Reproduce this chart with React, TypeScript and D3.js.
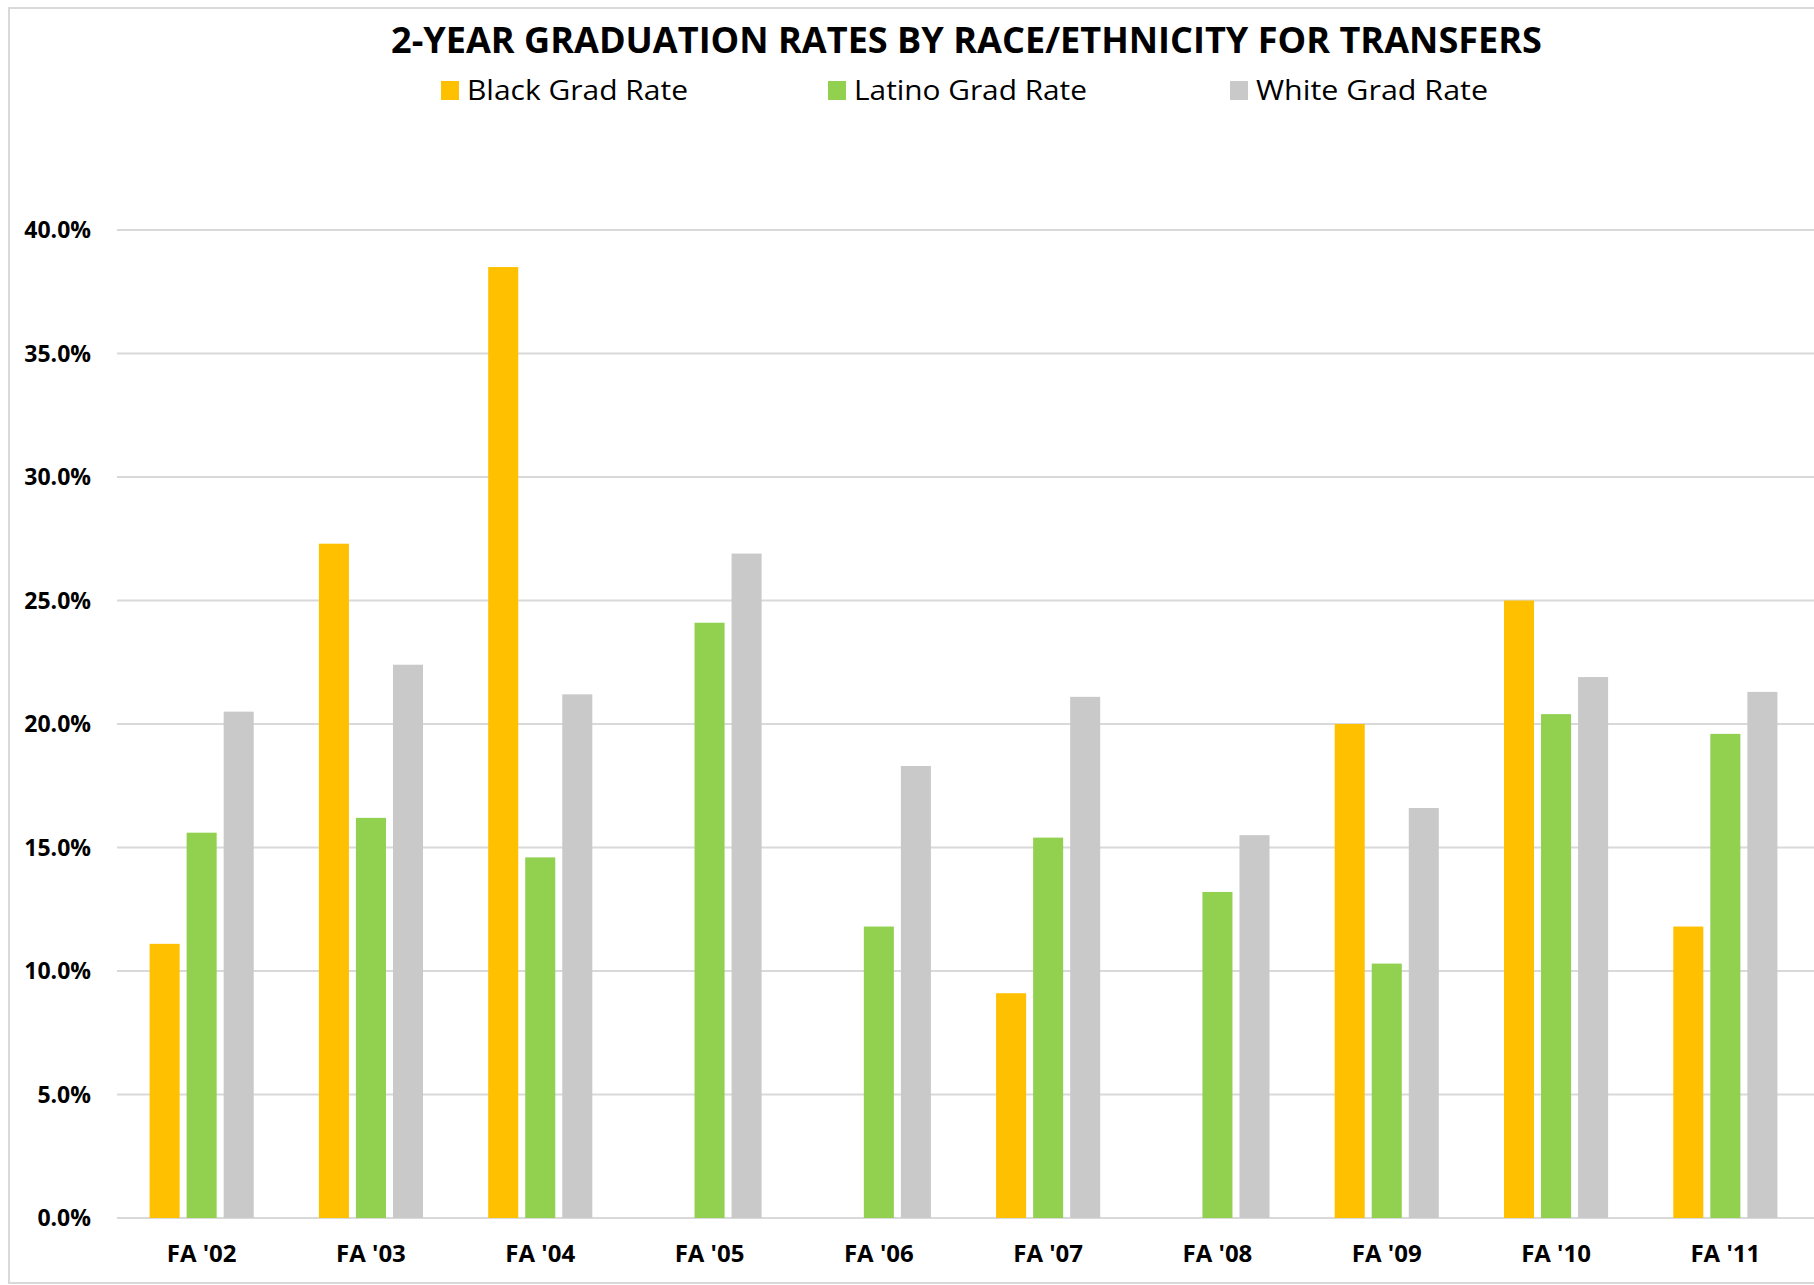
import React, { useEffect, useRef } from 'react';
import * as d3 from 'd3';

const categories = ["FA '02", "FA '03", "FA '04", "FA '05", "FA '06", "FA '07", "FA '08", "FA '09", "FA '10", "FA '11"];
const blackRate = [0.111, 0.273, 0.385, null, null, 0.091, null, 0.200, 0.250, 0.118];
const latinoRate = [0.156, 0.162, 0.146, 0.241, 0.118, 0.154, 0.132, 0.103, 0.204, 0.196];
const whiteRate = [0.205, 0.224, 0.212, 0.269, 0.183, 0.211, 0.155, 0.166, 0.219, 0.213];
const seriesNames = ['Black Grad Rate', 'Latino Grad Rate', 'White Grad Rate'];
const yTicks = [0, 0.05, 0.1, 0.15, 0.2, 0.25, 0.3, 0.35, 0.4];

const title = '2-YEAR GRADUATION RATES BY RACE/ETHNICITY FOR TRANSFERS';

const width = 1814;
const height = 1285;
const margin = { top: 230, right: 4, bottom: 67, left: 117 };
const colors = ['#FFC000', '#92D050', '#C9C9C9'];
const font = "'Open Sans', 'Noto Sans', sans-serif";

const App = () => {
  const chartRef = useRef(null);

  useEffect(() => {
    const svg = d3.select(chartRef.current);
    svg.selectAll('*').remove();

    const series = [blackRate, latinoRate, whiteRate];

    const x0 = d3.scaleBand()
      .domain(categories)
      .range([margin.left, width - margin.right])
      .paddingInner(0.385)
      .paddingOuter(0.1925);

    const x1 = d3.scaleBand()
      .domain(seriesNames)
      .range([0, x0.bandwidth()])
      .paddingInner(0.189);

    const y = d3.scaleLinear()
      .domain([0, 0.4])
      .range([height - margin.bottom, margin.top]);

    // chart frame
    svg.append('rect')
      .attr('x', 9).attr('y', 8)
      .attr('width', width).attr('height', 1275)
      .attr('fill', 'white')
      .attr('stroke', '#d9d9d9')
      .attr('stroke-width', 2);

    // gridlines
    svg.append('g')
      .selectAll('line')
      .data(yTicks)
      .enter()
      .append('line')
      .attr('x1', margin.left)
      .attr('x2', width)
      .attr('y1', d => y(d))
      .attr('y2', d => y(d))
      .attr('stroke', '#d9d9d9')
      .attr('stroke-width', 2);

    // y labels
    svg.append('g')
      .selectAll('text')
      .data(yTicks)
      .enter()
      .append('text')
      .attr('x', 91)
      .attr('y', d => y(d) + 8)
      .attr('text-anchor', 'end')
      .attr('font-family', font)
      .attr('font-weight', 700)
      .attr('font-size', 23)
      .attr('fill', '#000')
      .text(d => d3.format('.1%')(d));

    // bars
    series.forEach((values, si) => {
      svg.append('g')
        .selectAll('rect')
        .data(values.map((v, i) => ({ cat: categories[i], v })).filter(d => d.v != null))
        .enter()
        .append('rect')
        .attr('x', d => x0(d.cat) + x1(seriesNames[si]))
        .attr('y', d => y(d.v))
        .attr('width', x1.bandwidth())
        .attr('height', d => y(0) - y(d.v))
        .attr('fill', colors[si]);
    });

    // x labels
    svg.append('g')
      .selectAll('text')
      .data(categories)
      .enter()
      .append('text')
      .attr('x', d => x0(d) + x0.bandwidth() / 2)
      .attr('y', 1262)
      .attr('text-anchor', 'middle')
      .attr('font-family', font)
      .attr('font-weight', 700)
      .attr('font-size', 24)
      .attr('fill', '#000')
      .text(d => d);

    // title
    svg.append('text')
      .attr('x', 391)
      .attr('y', 53)
      .attr('font-family', font)
      .attr('font-weight', 700)
      .attr('font-size', 36)
      .attr('textLength', 1151)
      .attr('lengthAdjust', 'spacingAndGlyphs')
      .attr('fill', '#000')
      .text(title);

    // legend
    const legendX = [441, 828, 1230];
    const legendW = [221, 233, 232];
    const legend = svg.append('g')
      .selectAll('g')
      .data(seriesNames)
      .enter()
      .append('g')
      .attr('transform', (d, i) => `translate(${legendX[i]}, 0)`);

    legend.append('rect')
      .attr('x', 0).attr('y', 81)
      .attr('width', 18).attr('height', 19)
      .attr('fill', (d, i) => colors[i]);

    legend.append('text')
      .attr('x', 26)
      .attr('y', 100)
      .attr('font-family', font)
      .attr('font-size', 27)
      .attr('textLength', (d, i) => legendW[i])
      .attr('lengthAdjust', 'spacingAndGlyphs')
      .attr('fill', '#000')
      .text(d => d);
  });

  return (
    <svg
      ref={chartRef}
      width={width}
      height={height}
      viewBox={`0 0 ${width} ${height}`}
      style={{ position: 'absolute', left: 0, top: 0, display: 'block', background: '#fff' }}
    />
  );
};

export default App;
